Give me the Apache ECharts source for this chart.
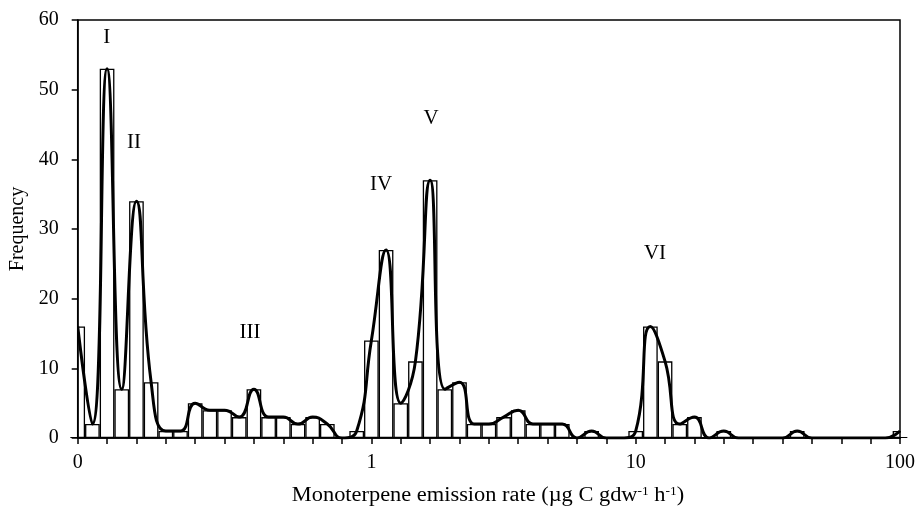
<!DOCTYPE html>
<html>
<head>
<meta charset="utf-8">
<script src="https://cdn.jsdelivr.net/npm/echarts@6/dist/echarts.min.js"></script>
<style>html,body{margin:0;padding:0;background:#fff}#c{width:921px;height:509px}</style>
</head>
<body>
<div id="c"></div>
<script>
// Frequency per log-spaced emission-rate bin (57 bins)
var frequency = [16, 2, 53, 7, 34, 8, 1, 1, 5, 4, 4, 3, 7, 3, 3, 2, 3, 2, 0, 1,
                 14, 27, 5, 11, 37, 7, 8, 2, 2, 3, 4, 2, 2, 2, 0, 1, 0, 0, 1, 16,
                 11, 2, 3, 0, 1, 0, 0, 0, 0, 1, 0, 0, 0, 0, 0, 0, 1];
var tickLabelIndex = [0, 20, 38, 56];
var tickLabelText = ['0', '1', '10', '100'];
var peakNames = ['I', 'II', 'III', 'IV', 'V', 'VI'];
var yTicks = [0, 10, 20, 30, 40, 50, 60];

var categories = frequency.map(function (_, i) { return String(i); });
var FONT = '"Liberation Serif", "Times New Roman", serif';
var G = {left: 77.7, right: 21, top: 20, bottom: 71};

var chart = echarts.init(document.getElementById('c'), null, {renderer: 'canvas'});
var peakPos = [[106.7, 37], [134, 142], [250, 332], [381, 184], [431, 118], [655, 253]];
chart.setOption({
  animation: false,
  backgroundColor: '#fff',
  grid: {left: G.left, right: G.right, top: G.top, bottom: G.bottom, show: true, z: 10,
         borderColor: '#000', borderWidth: 1.5, backgroundColor: 'transparent'},
  xAxis: {
    type: 'category', z: 10,
    data: categories,
    boundaryGap: false,
    axisLine: {lineStyle: {color: '#000', width: 1.5}},
    axisTick: {interval: 1, length: 6, lineStyle: {color: '#000', width: 1.5}},
    axisLabel: {
      interval: function (i) { return tickLabelIndex.indexOf(i) >= 0; },
      formatter: function (v, i) { var k = tickLabelIndex.indexOf(i); return k >= 0 ? tickLabelText[k] : ''; },
      color: '#000', fontFamily: FONT, fontSize: 20, margin: 15
    },
    splitLine: {show: false}
  },
  yAxis: {
    type: 'value', z: 10, min: yTicks[0], max: yTicks[yTicks.length - 1], interval: 10,
    axisLine: {show: true, lineStyle: {color: '#000', width: 1.5}},
    axisTick: {show: true, length: 6, lineStyle: {color: '#000', width: 1.5}},
    axisLabel: {color: '#000', fontFamily: FONT, fontSize: 20, margin: 19},
    splitLine: {show: false}
  },
  series: [
    {type: 'bar', data: frequency, barCategoryGap: '0%', clip: true,
     itemStyle: {color: '#fff', borderColor: '#000', borderWidth: 1.3}, z: 2},
    {type: 'line', data: frequency, smooth: 0.5, symbol: 'none', clip: true,
     lineStyle: {color: '#000', width: 3}, z: 3}
  ],
  graphic: [
    // masks hiding the halves of the edge bars that fall outside the plot box
    {type: 'rect', z: 5, shape: {x: G.left - 9, y: G.top - 2, width: 8.3, height: 509 - G.top - G.bottom + 1}, style: {fill: '#fff'}},
    {type: 'rect', z: 5, shape: {x: 921 - G.right + 0.8, y: G.top - 2, width: 10, height: 509 - G.top - G.bottom + 1}, style: {fill: '#fff'}}
  ].concat(peakNames.map(function (t, i) {
    return {type: 'text', x: peakPos[i][0], y: peakPos[i][1], z: 20,
      style: {text: t, font: '21px ' + FONT, fill: '#000', textAlign: 'center', textVerticalAlign: 'middle'}};
  })).concat([
    {type: 'text', x: 18, y: 229, rotation: Math.PI / 2, z: 20,
     style: {text: 'Frequency', font: '20px ' + FONT, fill: '#000', textAlign: 'center', textVerticalAlign: 'middle'}},
    {type: 'text', x: 488, y: 496, z: 20, scaleX: 1.12,
     style: {text: '{n|Monoterpene emission rate (µg C gdw}{s|-1}{n| h}{s|-1}{n|)}', textAlign: 'center', textVerticalAlign: 'middle',
       rich: {n: {font: '20px ' + FONT, fill: '#000'}, s: {font: '12px ' + FONT, fill: '#000', verticalAlign: 'top', padding: [0, 0, 9, 0]}}}}
  ])
});
</script>
</body>
</html>
